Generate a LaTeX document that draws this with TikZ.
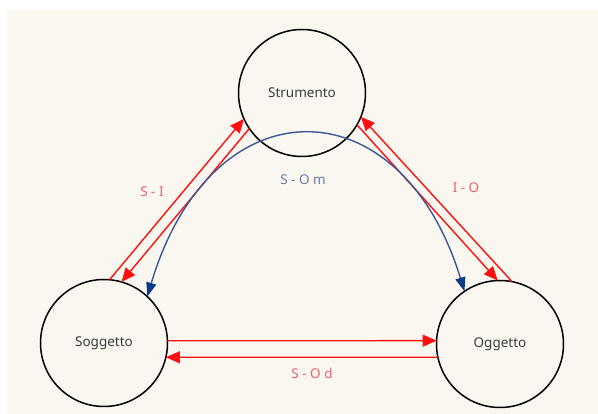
\documentclass[tikz,border=0pt]{standalone}
\usepackage{fontspec}
\setmainfont{Noto Sans}
\usetikzlibrary{arrows.meta}
\definecolor{bgcream}{HTML}{FAF7F0}
\definecolor{redline}{HTML}{FF1010}
\definecolor{redlabel}{HTML}{E8606E}
\definecolor{blueline}{HTML}{3A5896}
\definecolor{bluetip}{HTML}{0B3A88}
\definecolor{bluelabel}{HTML}{6B7BA5}
\definecolor{nodetext}{HTML}{3A3A3A}
\begin{document}
\begin{tikzpicture}[x=1pt,y=-1pt,
  state/.style={circle,draw=black,line width=1.5pt,minimum size=127pt,inner sep=0pt,outer sep=0pt,
    font=\fontsize{13.5}{15}\selectfont,text=nodetext},
  redarrow/.style={draw=redline,line width=1.4pt,-{Triangle[length=14pt,width=12pt,fill=redline,color=redline]}},
  bluearrow/.style={draw=blueline,line width=1.4pt,{Triangle[length=14pt,width=10pt,fill=bluetip,color=bluetip]}-{Triangle[length=14pt,width=10pt,fill=bluetip,color=bluetip]}},
  redlbl/.style={text=redlabel,font=\fontsize{13.5}{15}\selectfont},
  bluelbl/.style={text=bluelabel,font=\fontsize{13.5}{15}\selectfont}]
\useasboundingbox (0,0) rectangle (598,414);
\fill[white] (0,0) rectangle (598,414);
\fill[bgcream] (7,10) rectangle (598,414);

\node[state] (str) at (302,93) {Strumento};
\node[state] (sog) at (104,343) {Soggetto};
\node[state] (ogg) at (500,344) {Oggetto};

% S - I
\draw[redarrow] (sog.85) -- (str.204);
\draw[redarrow] (str.214) -- (sog.74);
% I - O
\draw[redarrow] (ogg.79) -- (str.338);
\draw[redarrow] (str.330) -- (ogg.92);
% S - O d
\draw[redarrow] (sog.2) -- (ogg.177);
\draw[redarrow] (ogg.192) -- (sog.347);
% S - O m
\draw[bluearrow] (sog.47) .. controls +(64,-215) and +(-64,-209) .. (ogg.124);

\node[redlbl] (lsi) at (152,192) {S - I};
\node[redlbl] (lio) at (466,188) {I - O};
\node[bluelbl] (lsom) at (303,180) {S - O m};
\node[redlbl] (lsod) at (312,373) {S - O d};
\end{tikzpicture}
\end{document}
